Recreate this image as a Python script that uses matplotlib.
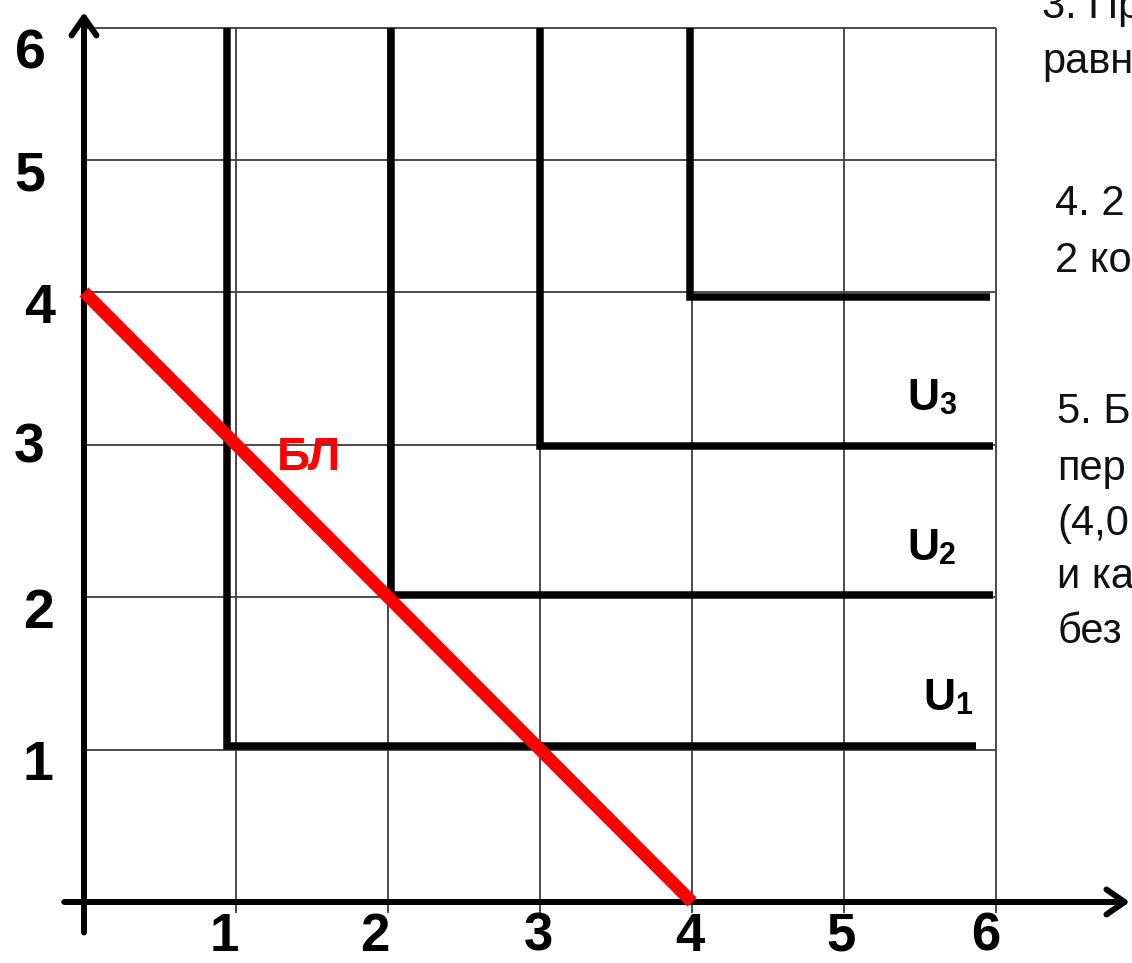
import numpy as np
import matplotlib
matplotlib.use("Agg")
import matplotlib.pyplot as plt
from matplotlib.transforms import offset_copy

# ---------------- data ----------------
grid_x = [1, 2, 3, 4, 5, 6]
grid_y = [1, 2, 3, 4, 5, 6]
x_tick_labels = ["1", "2", "3", "4", "5", "6"]
y_tick_labels = ["1", "2", "3", "4", "5", "6"]

# L-shaped indifference curves: corner point and right end, vertical part goes up to curve_top
curve_corner_x = [0.94, 2.02, 3.00, 3.99]
curve_corner_y = [1.02, 2.01, 2.99, 3.97]
curve_end_x = [5.87, 5.98, 5.98, 5.96]
curve_top = 6.0
curve_names = ["1", "2", "3", None]

# budget line
budget_x = [0, 4]
budget_y = [4, 0]
budget_label = "БЛ"

side_lines = ["3. Пр", "равн", "4. 2", "2 ко", "5. Б", "пер", "(4,0", "и ка", "без"]

# ---------------- layout / style ----------------
W, H = 1132, 963
DPI = 100
PX_X = 152.0          # pixels per unit on x
X0_PX = 84.0          # pixel of x = 0
PX_Y = 152.5          # pixels per unit on y (lower part)
Y0_PX = 902.0         # pixel of y = 0
R_TOP = 132.0 / PX_Y  # compression of upper rows (y > 4)


def fwd(y):
    y = np.asarray(y, dtype=float)
    return np.where(y <= 4, y, 4 + (y - 4) * R_TOP)


def inv(t):
    t = np.asarray(t, dtype=float)
    return np.where(t <= 4, t, 4 + (t - 4) / R_TOP)


fig = plt.figure(figsize=(W / DPI, H / DPI), dpi=DPI)
ax = fig.add_axes([0, 0, 1, 1])
ax.set_yscale("function", functions=(fwd, inv))
ax.set_xlim(-X0_PX / PX_X, (W - X0_PX) / PX_X)
t_bot = (Y0_PX - H) / PX_Y
t_top = Y0_PX / PX_Y
ax.set_ylim(float(inv(t_bot)), float(inv(t_top)))
ax.axis("off")

# grid
grid_col = "#4a4a4a"
ax.vlines(grid_x, -0.07, 6, color=grid_col, lw=1.4, zorder=1)
ax.hlines(grid_y, 0, 6, color=grid_col, lw=1.4, zorder=1)

# axes with arrows
arrow_style = "->,head_length=0.65,head_width=0.45"
ax.annotate("", xy=(6.88, 0), xytext=(-0.13, 0),
            arrowprops=dict(arrowstyle=arrow_style, lw=4.3, color="black",
                            shrinkA=0, shrinkB=0, mutation_scale=20), zorder=3)
ax.annotate("", xy=(0, 6.12), xytext=(0, -0.2),
            arrowprops=dict(arrowstyle=arrow_style, lw=4.3, color="black",
                            shrinkA=0, shrinkB=0, mutation_scale=20), zorder=3)

# indifference curves
for cx, cy, ex in zip(curve_corner_x, curve_corner_y, curve_end_x):
    ax.plot([cx, cx, ex], [curve_top, cy, cy], color="black", lw=5.4,
            solid_capstyle="butt", solid_joinstyle="miter", zorder=4)

# budget line
ax.plot(budget_x, budget_y, color="#ff0000", lw=9.2, solid_capstyle="butt", zorder=5)

# curve labels (U + subscript)
u_label_pos = [(5.52, 1.259), (5.414, 2.243), (5.414, 3.226), None]
for name, pos in zip(curve_names, u_label_pos):
    if name is None:
        continue
    t = ax.text(pos[0], pos[1], "U", fontsize=32, fontweight="bold",
                family="Liberation Sans", ha="left", va="baseline", zorder=6)
    ax.annotate(name, xy=(1.0, 0.0), xycoords=t, fontsize=22, fontweight="bold",
                family="Liberation Sans", ha="left", va="bottom",
                xytext=(0, -1.5), textcoords="offset points", zorder=6)

ax.text(1.27, 2.833, budget_label, color="#ff0000", fontsize=33, fontweight="bold",
        family="Liberation Sans", ha="left", va="baseline", zorder=6)

# tick labels
tick_family = ["Liberation Sans Narrow", "Liberation Sans"]
x_nudge = [-12, -13, -2, -2, -3, -10]
xt = ax.get_xaxis_transform()
for v, lab, dx in zip(grid_x, x_tick_labels, x_nudge):
    tr = offset_copy(xt, fig=fig, x=dx, y=0, units="dots")
    ax.text(v, 1.5 / H, lab, transform=tr, fontsize=38, fontweight="bold",
            family=tick_family, ha="center", va="bottom")

y_center_px = [38, 39, 29, 40, 30, 30]
y_base_off = [30, 31, 18, 31, 30, 40]
yt = ax.get_yaxis_transform()
for v, lab, cxp, off in zip(grid_y, y_tick_labels, y_center_px, y_base_off):
    tr = offset_copy(yt, fig=fig, x=0, y=-off, units="dots")
    ax.text(cxp / W, v, lab, transform=tr, fontsize=40, fontweight="bold",
            family=tick_family, ha="center", va="baseline")

# side text (cut off by the right edge, as in the source slide)
side_pos = [(1042, 18), (1042, 73), (1055, 215), (1055, 272),
            (1057, 423), (1057, 480), (1057, 535), (1057, 588), (1057, 643)]
for s, (px, py) in zip(side_lines, side_pos):
    fig.text(px / W, 1 - py / H, s, fontsize=30, family="Liberation Sans",
             ha="left", va="baseline", color="#111111")

fig.savefig("out.png", dpi=DPI)
